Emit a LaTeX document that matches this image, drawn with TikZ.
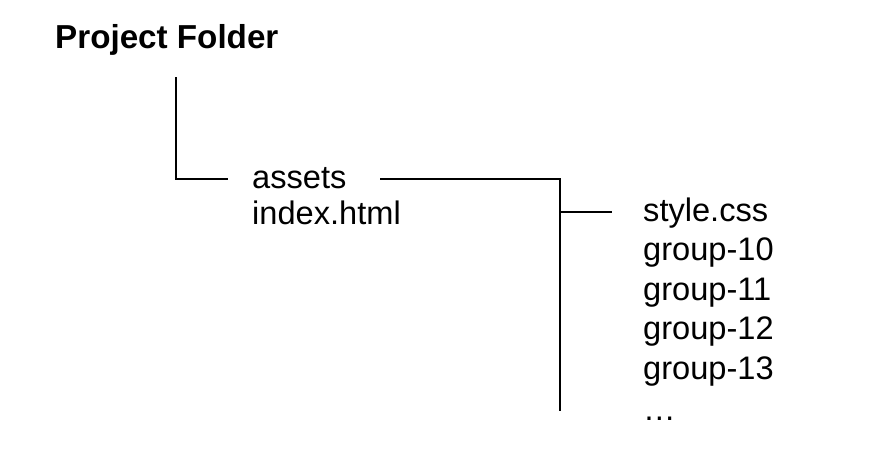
\documentclass[tikz,border=0pt]{standalone}
\usepackage{fontspec}
\setmainfont{Liberation Sans}
\begin{document}
\begin{tikzpicture}[x=1pt,y=-1pt,
  lbl/.style={anchor=base west,inner sep=0pt,font=\fontsize{32.6}{36}\selectfont},
  title/.style={anchor=base west,inner sep=0pt,font=\fontsize{33.2}{36}\selectfont\bfseries},
  conn/.style={draw=black,line width=1.6pt}]
\useasboundingbox[fill=white] (0,0) rectangle (870,456);
\node[title] (pf) at (55,48) {Project Folder};
\node[lbl] (assets) at (252,188) {assets};
\node[lbl] (index) at (252,224) {index.html};
\node[lbl] (style) at (643,221) {style.css};
\node[lbl] (g10) at (643,260) {group-10};
\node[lbl] (g11) at (643,300) {group-11};
\node[lbl] (g12) at (643,339) {group-12};
\node[lbl] (g13) at (643,379) {group-13};
\node[lbl] (more) at (643,420) {…};
\coordinate (a1) at (176,77);
\coordinate (a2) at (176,179);
\coordinate (a3) at (228,179);
\coordinate (b1) at (380,179);
\coordinate (b2) at (560,179);
\coordinate (b3) at (560,411);
\coordinate (c1) at (560,212);
\coordinate (c2) at (612,212);
\draw[conn] (a1) -- (a2) -- (a3);
\draw[conn] (b1) -- (b2) -- (b3);
\draw[conn] (c1) -- (c2);
\end{tikzpicture}
\end{document}
